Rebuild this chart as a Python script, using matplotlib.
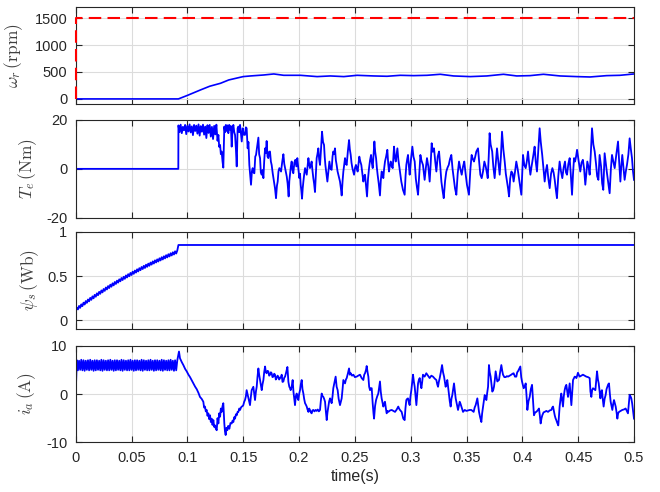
import numpy as np
import matplotlib
matplotlib.use("Agg")
import matplotlib.pyplot as plt

plt.rcParams['font.family'] = ['Liberation Sans', 'DejaVu Sans']
plt.rcParams['mathtext.fontset'] = 'cm'
plt.rcParams['axes.unicode_minus'] = False

# --- rotor speed (rpm) and its reference ---
t_speed = [0, 0.092, 0.100, 0.1118, 0.120, 0.1297, 0.1371, 0.150, 0.1565, 0.1684,
           0.1774, 0.1863, 0.2013, 0.2162, 0.228, 0.2401, 0.252, 0.2669, 0.2788,
           0.2907, 0.3026, 0.3146, 0.3265, 0.3384, 0.3533, 0.3682, 0.3831, 0.395,
           0.4069, 0.4189, 0.4338, 0.4487, 0.4606, 0.4755, 0.4874, 0.5]
speed = [0, 0, 65, 167, 235, 290, 352, 414, 426, 444,
         463, 438, 438, 414, 426, 414, 438, 426, 420,
         438, 432, 438, 457, 426, 414, 426, 457, 426,
         432, 457, 426, 414, 407, 432, 438, 463]
t_speed_ref = [0, 0, 0.5]
speed_ref = [0, 1500, 1500]

# --- electromagnetic torque (Nm) ---
t_te = [0, 0.0919,
        0.092, 0.093, 0.094, 0.095, 0.096, 0.097, 0.098, 0.099, 0.100, 0.101,
        0.102, 0.103, 0.104, 0.105, 0.106, 0.107, 0.108, 0.109, 0.110, 0.111,
        0.112, 0.113, 0.114, 0.115, 0.116, 0.117, 0.118, 0.119, 0.120, 0.121,
        0.122, 0.123, 0.124, 0.125, 0.126, 0.127,
        0.1278, 0.1285, 0.1293, 0.1300, 0.1307, 0.1315, 0.1322, 0.1331, 0.1337, 0.1345,
        0.1352, 0.1360, 0.1367, 0.1375, 0.1382, 0.1390, 0.1397, 0.1405, 0.1412, 0.1420,
        0.1427, 0.1435, 0.1442, 0.1450, 0.1457, 0.1465, 0.1472, 0.1480, 0.1487, 0.1496,
        0.1505, 0.1516, 0.1524, 0.1531, 0.1540, 0.1547, 0.1555, 0.1562, 0.1570, 0.1578,
        0.1585, 0.1592, 0.1600, 0.1608, 0.1615, 0.1625, 0.1636, 0.1643, 0.1651, 0.1658,
        0.1666, 0.1673, 0.1681, 0.1688, 0.1696, 0.1703, 0.1710, 0.1718, 0.1725, 0.1733,
        0.1740, 0.1748, 0.1755, 0.1765, 0.1776, 0.1785, 0.1794, 0.1802, 0.1809, 0.1816,
        0.1824, 0.1832, 0.1839, 0.1850, 0.1860, 0.1868, 0.1875, 0.1883, 0.1890, 0.1898,
        0.1907, 0.1913, 0.1919, 0.1927, 0.1934, 0.1942, 0.1949, 0.1958, 0.1967, 0.1976,
        0.1985, 0.1994, 0.2003, 0.2009, 0.2015, 0.2021, 0.2027, 0.2033, 0.2039, 0.2047,
        0.2054, 0.2061, 0.2069, 0.2077, 0.2084, 0.2091, 0.2098, 0.2106, 0.2113, 0.2120,
        0.2128, 0.2135, 0.2143, 0.2150, 0.2158, 0.2165, 0.2173, 0.2180, 0.2188, 0.2197,
        0.2206, 0.2215, 0.2224, 0.2230, 0.2236, 0.2245, 0.2254, 0.2263, 0.2272, 0.2282,
        0.2292, 0.2300, 0.2307, 0.2315, 0.2322, 0.2330, 0.2337, 0.2345, 0.2352, 0.2360,
        0.2367, 0.2375, 0.2382, 0.2390, 0.2397, 0.2405, 0.2412, 0.2420, 0.2427, 0.2437,
        0.2448, 0.2455, 0.2463, 0.2470, 0.2478, 0.2485, 0.2493, 0.2502, 0.2510, 0.2518,
        0.2525, 0.2533, 0.2540, 0.2549, 0.2558, 0.2567, 0.2576, 0.2584, 0.2591, 0.2600,
        0.2609, 0.2618, 0.2627, 0.2636, 0.2645, 0.2652, 0.2660, 0.2668, 0.2675, 0.2682,
        0.2690, 0.2697, 0.2704, 0.2714, 0.2725, 0.2732, 0.2740, 0.2748, 0.2755, 0.2762,
        0.2770, 0.2780, 0.2791, 0.2799, 0.2806, 0.2814, 0.2821, 0.2830, 0.2839, 0.2845,
        0.2851, 0.2858, 0.2866, 0.2874, 0.2881, 0.2889, 0.2896, 0.2905, 0.2916, 0.2931,
        0.2946, 0.2954, 0.2961, 0.2969, 0.2976, 0.2984, 0.2991, 0.3003, 0.3015, 0.3025,
        0.3036, 0.3046, 0.3056, 0.3066, 0.3077, 0.3087, 0.3096, 0.3110, 0.3125, 0.3135,
        0.3146, 0.3158, 0.3170, 0.3179, 0.3188, 0.3198, 0.3209, 0.3220, 0.3230, 0.3242,
        0.3254, 0.3265, 0.3275, 0.3286, 0.3296, 0.3308, 0.3319, 0.3330, 0.3341, 0.3352,
        0.3364, 0.3375, 0.3385, 0.3397, 0.3409, 0.3421, 0.3433, 0.3445, 0.3457, 0.3469,
        0.3480, 0.3492, 0.3504, 0.3513, 0.3522, 0.3535, 0.3546, 0.3557, 0.3567, 0.3578,
        0.3588, 0.3603, 0.3613, 0.3624, 0.3636, 0.3648, 0.3660, 0.3672, 0.3684, 0.3690,
        0.3699, 0.3707, 0.3716, 0.3730, 0.3740, 0.3752, 0.3762, 0.3773, 0.3785, 0.3797,
        0.3808, 0.3818, 0.3830, 0.3842, 0.3852, 0.3863, 0.3872, 0.3881, 0.3891, 0.3902,
        0.3912, 0.3922, 0.3935, 0.3946, 0.3958, 0.3970, 0.3981, 0.3991, 0.4006, 0.4018,
        0.4030, 0.4040, 0.4051, 0.4061, 0.4072, 0.4081, 0.4090, 0.4100, 0.4110, 0.4120,
        0.4131, 0.4143, 0.4155, 0.4165, 0.4178, 0.4190, 0.4200, 0.4210, 0.4221, 0.4233,
        0.4245, 0.4257, 0.4269, 0.4280, 0.4290, 0.4300, 0.4310, 0.4322, 0.4334, 0.4346,
        0.4358, 0.4370, 0.4382, 0.4391, 0.4400, 0.4412, 0.4424, 0.4435, 0.4445, 0.4454,
        0.4463, 0.4472, 0.4481, 0.4490, 0.4505, 0.4519, 0.4530, 0.4542, 0.4553, 0.4564,
        0.4573, 0.4582, 0.4594, 0.4603, 0.4613, 0.4624, 0.4636, 0.4648, 0.4660, 0.4670,
        0.4681, 0.4692, 0.4705, 0.4715, 0.4725, 0.4737, 0.4748, 0.4758, 0.4770, 0.4782,
        0.4793, 0.4803, 0.4815, 0.4827, 0.4842, 0.4857, 0.4867, 0.4878, 0.4886, 0.4895,
        0.4905, 0.4916, 0.4927, 0.4937, 0.4950, 0.4961, 0.4972, 0.4982, 0.4991, 0.5]
te = [0, 0,
      17.8, 15.0, 18.1, 14.6, 17.2, 15.8, 18.0, 14.2, 17.6, 15.3,
      18.2, 14.9, 17.4, 13.8, 18.0, 15.5, 17.7, 14.4, 18.2, 13.6,
      17.5, 15.2, 18.1, 14.0, 17.3, 12.6, 17.9, 14.7, 18.0, 13.2,
      17.2, 12.2, 17.6, 14.1, 18.1, 11.5,
      13.9, 9.0, 9.8, 6.0, 7.1, 3.0, 0.5, 17.3, 15.0, 18.0,
      15.5, 17.8, 14.6, 18.0, 16.0, 17.5, 9.1, 16.5, 18.0, 15.0,
      13.9, 8.0, 1.0, 16.6, 17.3, 15.0, 18.0, 14.5, 11.2, 16.6,
      14.0, 13.9, 17.0, 16.6, 8.4, 11.0, 1.6, -2.0, -6.5, -1.0,
      0.3, -1.5, -1.8, 5.0, 5.7, 9.0, 12.8, 6.0, 4.4, -1.5,
      -2.4, -0.5, -3.8, 3.0, 8.4, 6.5, 11.4, 5.0, 4.4, 7.0,
      7.1, 3.0, 1.6, -2.0, -5.2, -8.0, -12.0, -7.0, -5.2, -1.0,
      0.3, -0.4, -1.1, 3.0, 6.0, 2.0, 0.3, -1.5, -3.1, -6.0,
      -11.3, -5.0, -2.4, 1.0, 3.0, -0.5, -1.8, 2.5, 3.7, 1.0,
      4.4, 0.0, -3.8, -2.0, -6.5, -9.0, -12.2, -8.0, -5.2, -2.0,
      0.3, -1.0, -2.4, 1.0, 4.4, 2.0, 0.3, 1.5, 3.0, -0.5,
      -3.8, -6.0, -9.5, -3.0, 4.4, 6.0, 8.4, 4.0, 1.6, 8.0,
      15.2, 11.0, 9.8, 5.0, 1.6, -2.0, -5.2, -1.0, 3.0, 0.0,
      -0.4, 5.0, 7.1, 6.0, 8.4, 3.5, 1.6, -1.0, -2.4, -4.0,
      -5.2, -8.0, -10.9, -5.0, -1.1, 2.0, 4.4, 2.0, 1.6, 7.0,
      11.8, 8.0, 5.7, 2.5, 0.3, -1.0, -2.4, 0.5, 1.6, 0.0,
      -1.1, 2.0, 5.0, 3.0, 1.6, -2.0, -5.2, -3.0, -2.4, -7.0,
      -11.3, -4.0, 0.3, 3.5, 5.7, 2.5, 0.3, 6.0, 11.2, 7.0,
      4.4, 0.5, -2.4, -6.0, -10.9, -5.0, -1.1, -2.0, -3.8, 0.0,
      3.0, 5.0, 7.8, 2.0, -1.1, 1.5, 3.0, 1.0, 0.3, 5.0,
      9.1, 5.0, 3.0, 6.0, 8.4, 4.0, 1.6, -1.5, -5.2, -8.6,
      -10.6, -3.0, 1.6, 4.0, 5.7, 1.0, -2.4, 4.0, 9.1, 5.0,
      3.0, -4.0, -7.5, -10.6, -2.0, 5.7, 3.5, 1.6, -4.5, 0.0,
      4.4, 1.0, -5.2, 2.0, 10.5, 7.0, 8.4, 3.0, -1.1, 5.0,
      7.1, 1.0, -5.2, -9.0, -12.0, -5.0, -1.1, 0.5, 1.6, 4.0,
      5.7, 0.0, -3.8, -8.0, -10.6, -2.0, 3.0, 0.0, -2.4, 1.0,
      3.0, -2.0, -6.5, -8.5, -10.6, 0.0, 5.7, 4.0, 3.0, 5.0,
      7.1, 8.4, 3.0, -2.4, -3.8, -1.0, 3.0, 1.0, -2.0, -3.8,
      5.0, 14.6, 10.0, 7.1, 1.0, -3.8, 2.0, 8.4, 3.0, -2.4,
      5.0, 15.2, 8.0, 3.0, -2.0, -5.2, -8.0, -11.3, -4.0, -1.1,
      -1.8, -5.2, -1.0, 3.0, 0.0, -3.8, -7.0, -10.6, 5.7, 1.5,
      0.3, 3.0, 7.1, 2.0, -2.4, 0.5, 3.0, 6.0, 9.1, 3.0,
      -1.1, 8.0, 16.6, 11.0, 5.7, -0.5, -5.2, -1.0, 1.6, -4.0,
      -7.9, -2.0, 0.3, -1.5, -4.5, -8.5, -12.0, -3.0, 3.0, -1.0,
      -3.8, 0.5, 3.0, -1.5, -2.4, 2.0, 4.4, -3.0, -10.6, -2.0,
      4.4, 3.0, 5.0, 7.8, 3.0, -1.1, 2.5, 3.7, 0.0, -6.5,
      -2.0, 3.0, 0.5, -2.4, 6.0, 16.6, 10.0, 7.1, 2.0, -3.0,
      -4.5, 5.7, 1.0, -6.0, -8.6, 6.4, 2.0, -1.8, -6.0, -10.0,
      0.0, 5.7, 3.0, 0.3, 6.0, 11.2, 3.0, -5.2, 1.0, 5.7,
      1.0, -4.5, -1.0, 1.6, 6.0, 12.5, 8.0, 4.4, -1.0, -4.5]

# --- stator flux (Wb): 1 ms samples during build-up, then held ---
dt_fine = 0.001
psi_buildup = [0.105, 0.144, 0.124, 0.163, 0.142, 0.181, 0.161, 0.200, 0.179, 0.218,
               0.198, 0.236, 0.215, 0.254, 0.232, 0.271, 0.249, 0.288, 0.267, 0.305,
               0.284, 0.322, 0.300, 0.338, 0.316, 0.354, 0.333, 0.371, 0.349, 0.387,
               0.365, 0.403, 0.380, 0.418, 0.395, 0.433, 0.411, 0.448, 0.426, 0.463,
               0.441, 0.478, 0.455, 0.492, 0.469, 0.507, 0.484, 0.521, 0.498, 0.535,
               0.512, 0.549, 0.525, 0.562, 0.539, 0.576, 0.552, 0.589, 0.566, 0.602,
               0.579, 0.615, 0.591, 0.628, 0.604, 0.640, 0.616, 0.652, 0.629, 0.665,
               0.641, 0.677, 0.653, 0.688, 0.664, 0.700, 0.676, 0.712, 0.687, 0.723,
               0.699, 0.735, 0.710, 0.746, 0.721, 0.757, 0.732, 0.768, 0.743, 0.779,
               0.754, 0.789]
t_psi_hold = [0.092, 0.5]
psi_hold = [0.85, 0.85]

# --- phase-a current (A) ---
ia_startup = [0.0, 7.0, 4.9, 6.9, 5.0, 7.1, 4.9, 7.0, 4.8, 6.9, 5.0, 7.0, 4.9, 7.1, 5.0,
              6.9, 4.8, 7.0, 4.9, 7.0, 5.0, 6.9, 4.9, 7.1, 4.8, 7.0, 5.0, 6.9, 4.9, 7.0,
              4.9, 7.1, 5.0, 6.9, 4.8, 7.0, 4.9, 7.0, 5.0, 6.9, 4.9, 7.1, 4.8, 7.0, 5.0,
              6.9, 4.9, 7.0, 4.9, 7.1, 5.0, 6.9, 4.8, 7.0, 4.9, 7.0, 5.0, 6.9, 4.9, 7.1,
              4.8, 7.0, 5.0, 6.9, 4.9, 7.0, 4.9, 7.1, 5.0, 6.9, 4.8, 7.0, 4.9, 7.0, 5.0,
              6.9, 4.9, 7.1, 4.8, 7.0, 5.0, 6.9, 4.9, 7.0, 4.9, 7.1, 5.0, 6.9, 4.8, 7.0,
              4.9, 7.0]
t_ia = [0.0925, 0.0934, 0.0950, 0.0964, 0.0980, 0.0994, 0.1010, 0.1024, 0.1040, 0.1054,
        0.1070, 0.1084, 0.1100, 0.1113, 0.1128, 0.1143, 0.1150, 0.1158, 0.1165, 0.1173,
        0.1180, 0.1188, 0.1195, 0.1203, 0.1210, 0.1218, 0.1225, 0.1233, 0.1240, 0.1248,
        0.1255, 0.1263, 0.1270, 0.1278, 0.1285, 0.1293, 0.1300, 0.1307, 0.1315, 0.1322,
        0.1331, 0.1337, 0.1343, 0.1350, 0.1358, 0.1366, 0.1376, 0.1386, 0.1397, 0.1405,
        0.1412, 0.1420, 0.1427, 0.1435, 0.1442, 0.1450, 0.1457, 0.1465, 0.1472, 0.1480,
        0.1487, 0.1495, 0.1501, 0.1509, 0.1516, 0.1524, 0.1531, 0.1539, 0.1546, 0.1554,
        0.1561, 0.1569, 0.1576, 0.1584, 0.1591, 0.1599, 0.1606, 0.1614, 0.1621, 0.1628,
        0.1636, 0.1643, 0.1651, 0.1658, 0.1666, 0.1673, 0.1681, 0.1688, 0.1696, 0.1703,
        0.1710, 0.1718, 0.1725, 0.1733, 0.1740, 0.1748, 0.1755, 0.1762, 0.1770, 0.1778,
        0.1785, 0.1792, 0.1800, 0.1808, 0.1815, 0.1822, 0.1830, 0.1838, 0.1845, 0.1852,
        0.1860, 0.1868, 0.1875, 0.1885, 0.1896, 0.1905, 0.1913, 0.1920, 0.1925, 0.1934,
        0.1943, 0.1950, 0.1957, 0.1964, 0.1971, 0.1979, 0.1986, 0.1994, 0.2001, 0.2009,
        0.2016, 0.2024, 0.2031, 0.2039, 0.2046, 0.2054, 0.2061, 0.2069, 0.2076, 0.2084,
        0.2091, 0.2098, 0.2106, 0.2113, 0.2120, 0.2128, 0.2138, 0.2148, 0.2158, 0.2168,
        0.2178, 0.2188, 0.2195, 0.2203, 0.2210, 0.2218, 0.2225, 0.2233, 0.2240, 0.2248,
        0.2255, 0.2263, 0.2270, 0.2278, 0.2285, 0.2292, 0.2300, 0.2307, 0.2318, 0.2328,
        0.2337, 0.2346, 0.2355, 0.2367, 0.2375, 0.2382, 0.2390, 0.2397, 0.2405, 0.2412,
        0.2420, 0.2427, 0.2437, 0.2448, 0.2455, 0.2463, 0.2475, 0.2487, 0.2500, 0.2516,
        0.2530, 0.2546, 0.2561, 0.2576, 0.2584, 0.2591, 0.2600, 0.2606, 0.2614, 0.2621,
        0.2628, 0.2636, 0.2643, 0.2651, 0.2660, 0.2667, 0.2672, 0.2681, 0.2690, 0.2700,
        0.2710, 0.2718, 0.2725, 0.2732, 0.2740, 0.2748, 0.2755, 0.2762, 0.2770, 0.2778,
        0.2785, 0.2792, 0.2800, 0.2815, 0.2830, 0.2845, 0.2860, 0.2875, 0.2889, 0.2896,
        0.2904, 0.2912, 0.2919, 0.2934, 0.2946, 0.2953, 0.2961, 0.2969, 0.2976, 0.2984,
        0.2991, 0.2998, 0.3006, 0.3014, 0.3021, 0.3029, 0.3036, 0.3044, 0.3051, 0.3059,
        0.3066, 0.3074, 0.3081, 0.3089, 0.3096, 0.3103, 0.3110, 0.3118, 0.3125, 0.3133,
        0.3140, 0.3155, 0.3170, 0.3185, 0.3200, 0.3215, 0.3230, 0.3238, 0.3245, 0.3252,
        0.3260, 0.3270, 0.3281, 0.3290, 0.3299, 0.3306, 0.3313, 0.3320, 0.3328, 0.3335,
        0.3343, 0.3350, 0.3358, 0.3365, 0.3373, 0.3380, 0.3388, 0.3395, 0.3403, 0.3413,
        0.3424, 0.3431, 0.3439, 0.3446, 0.3454, 0.3461, 0.3469, 0.3476, 0.3484, 0.3499,
        0.3513, 0.3528, 0.3543, 0.3553, 0.3564, 0.3573, 0.3582, 0.3590, 0.3597, 0.3605,
        0.3612, 0.3622, 0.3633, 0.3640, 0.3648, 0.3655, 0.3663, 0.3670, 0.3678, 0.3685,
        0.3693, 0.3697, 0.3701, 0.3708, 0.3716, 0.3724, 0.3731, 0.3739, 0.3746, 0.3754,
        0.3761, 0.3769, 0.3776, 0.3784, 0.3791, 0.3801, 0.3812, 0.3820, 0.3827, 0.3839,
        0.3851, 0.3862, 0.3872, 0.3887, 0.3901, 0.3912, 0.3922, 0.3934, 0.3946, 0.3954,
        0.3961, 0.3971, 0.3982, 0.3990, 0.3997, 0.4005, 0.4012, 0.4021, 0.4030, 0.4038,
        0.4045, 0.4055, 0.4066, 0.4076, 0.4087, 0.4095, 0.4104, 0.4115, 0.4125, 0.4137,
        0.4149, 0.4157, 0.4164, 0.4172, 0.4179, 0.4190, 0.4200, 0.4215, 0.4230, 0.4245,
        0.4260, 0.4268, 0.4275, 0.4283, 0.4290, 0.4297, 0.4304, 0.4313, 0.4322, 0.4328,
        0.4334, 0.4342, 0.4349, 0.4356, 0.4364, 0.4371, 0.4379, 0.4386, 0.4394, 0.4402,
        0.4409, 0.4417, 0.4424, 0.4431, 0.4439, 0.4447, 0.4454, 0.4462, 0.4469, 0.4477,
        0.4484, 0.4491, 0.4498, 0.4506, 0.4513, 0.4528, 0.4543, 0.4558, 0.4573, 0.4588,
        0.4603, 0.4610, 0.4618, 0.4625, 0.4633, 0.4643, 0.4654, 0.4662, 0.4669, 0.4677,
        0.4684, 0.4692, 0.4699, 0.4706, 0.4713, 0.4720, 0.4728, 0.4737, 0.4746, 0.4754,
        0.4761, 0.4769, 0.4776, 0.4784, 0.4791, 0.4799, 0.4806, 0.4814, 0.4821, 0.4829,
        0.4836, 0.4844, 0.4851, 0.4858, 0.4866, 0.4880, 0.4895, 0.4910, 0.4925, 0.4936,
        0.4946, 0.4954, 0.4961, 0.4969, 0.4976, 0.4984, 0.4991, 0.5]
ia = [8.8, 7.4, 6.6, 6.0, 5.2, 4.7, 4.0, 3.5, 2.8, 2.2,
      1.5, 1.0, 0.2, -0.6, -1.0, -1.6, -2.8, -2.6, -3.6, -3.3,
      -4.5, -4.0, -5.2, -4.4, -5.8, -5.1, -6.4, -5.4, -6.8, -6.5,
      -7.2, -7.5, -5.0, -6.1, -4.0, -4.7, -3.0, -3.7, -2.5, -1.9,
      -6.1, -7.8, -8.5, -7.0, -7.5, -6.6, -7.2, -6.0, -6.1, -5.5,
      -5.8, -4.8, -5.1, -4.2, -4.4, -3.7, -3.7, -3.0, -3.3, -2.8,
      -2.6, -2.5, -2.3, -1.6, -1.25, -0.5, 0.8, 0.0, -0.6, -1.5,
      -2.3, -0.5, 0.8, 1.2, 1.5, 0.0, -1.25, 0.5, 1.5, 3.5,
      5.3, 4.0, 2.9, 1.8, 0.8, 2.0, 2.9, 4.5, 5.7, 4.5,
      4.3, 4.8, 4.7, 3.8, 4.0, 4.5, 4.3, 3.5, 3.6, 4.2,
      4.0, 3.0, 3.3, 3.8, 3.6, 3.0, 3.3, 3.5, 4.0, 2.5,
      2.6, 3.4, 3.6, 4.5, 5.6, 2.5, 1.5, 1.2, 0.8, 1.5,
      2.9, 0.5, -1.0, -2.3, -0.5, 0.1, -0.8, -1.25, 0.0, 0.8,
      2.0, 2.9, 1.0, 0.1, -1.0, -1.9, -2.2, -2.6, -3.2, -3.7,
      -3.0, -3.3, -3.8, -4.0, -3.4, -3.3, -3.6, -3.3, -3.5, -3.2,
      -3.6, -3.3, -1.5, 0.1, -0.4, -0.6, -1.0, -1.6, -3.5, -5.4,
      -3.8, -2.6, -1.5, -0.9, -1.3, -1.9, -0.5, 1.2, 2.5, 3.6,
      1.5, 0.8, -1.0, -2.3, -1.5, -0.9, 1.0, 2.9, 2.5, 2.2,
      3.0, 3.3, 4.2, 5.3, 4.0, 4.3, 3.8, 4.0, 3.5, 3.6,
      3.8, 4.0, 3.3, 2.9, 4.0, 4.3, 5.0, 5.8, 4.5, 3.6,
      1.5, 0.8, 1.2, 1.2, -2.0, -4.0, -5.1, -2.5, -1.25, -0.5,
      0.1, 1.5, 2.6, 0.5, -0.9, -1.8, -2.6, -2.0, -1.6, -3.0,
      -4.0, -3.5, -3.7, -3.4, -3.3, -3.5, -3.7, -3.2, -2.6, -3.0,
      -3.3, -3.5, -3.7, -5.1, -5.4, -3.0, -1.25, -1.0, -0.9, -1.8,
      -2.3, -0.5, 0.8, 2.5, 4.0, 2.5, 1.5, -0.5, -2.3, 0.0,
      2.2, 3.0, 3.3, 2.0, 1.2, 2.5, 4.0, 3.8, 3.6, 4.0,
      4.3, 3.8, 3.3, 3.8, 3.6, 3.2, 2.9, 2.0, 1.5, 2.5,
      3.3, 4.5, 6.0, 4.5, 3.6, 2.5, 1.5, 2.0, 2.9, 1.5,
      -0.2, -1.5, -2.6, -1.0, -0.2, 1.0, 2.2, 0.8, -0.9, -2.0,
      -3.3, -2.5, -1.6, -2.0, -2.6, -3.2, -3.7, -3.5, -3.3, -3.5,
      -3.4, -3.3, -3.3, -3.5, -3.7, -2.8, -2.3, -1.5, -0.9, -2.5,
      -3.7, -4.8, -5.8, -4.0, -2.6, -1.5, -0.2, -0.8, -1.25, 0.2,
      1.5, 4.0, 6.0, 4.5, 3.6, 2.0, 0.5, 0.8, 1.5, 3.0,
      4.7, 3.5, 2.6, 2.8, 2.9, 4.5, 6.0, 4.8, 4.0, 3.5,
      3.5, 3.7, 3.6, 3.8, 4.0, 4.2, 4.3, 3.6, 3.6, 4.5,
      4.7, 5.2, 5.7, 3.5, 2.6, 1.8, 1.2, 1.5, 2.2, -0.5,
      -3.3, -1.5, -0.6, 1.0, 1.9, -1.0, -4.4, -3.8, -3.7, -3.4,
      -3.0, -4.5, -6.1, -5.0, -4.4, -3.8, -3.7, -3.5, -3.7, -3.4,
      -3.3, -2.8, -2.6, -3.6, -4.4, -5.0, -5.4, -6.0, -6.5, -4.5,
      -2.6, -1.0, 0.1, -1.2, -2.6, -0.5, 0.8, 1.5, 1.9, 0.5,
      -0.6, 1.0, 2.2, 0.0, -2.3, 0.5, 2.9, 3.3, 3.6, 3.5,
      3.3, 3.8, 4.4, 4.0, 3.6, 3.8, 4.0, 3.8, 3.6, 3.5,
      3.3, 0.5, -0.6, 0.8, 1.2, 1.0, 0.8, 3.0, 4.7, 3.0,
      2.2, 0.5, -0.9, 0.5, 0.8, -1.0, -2.6, -1.0, -0.2, 1.0,
      1.5, 2.0, 2.2, 0.0, -1.6, -2.5, -3.3, -2.0, -1.25, -2.0,
      -2.6, -3.8, -5.1, -4.0, -3.7, -3.5, -3.3, -3.2, -3.0, -3.5,
      -4.0, -2.0, -0.2, -0.5, -0.9, -2.0, -3.3, -5.1]

x_ticks = [0, 0.05, 0.1, 0.15, 0.2, 0.25, 0.3, 0.35, 0.4, 0.45, 0.5]
x_tick_labels = ['0', '0.05', '0.1', '0.15', '0.2', '0.25', '0.3', '0.35', '0.4', '0.45', '0.5']

# time base for the 1 ms start-up samples
t_fine = np.arange(len(psi_buildup)) * dt_fine
t_psi = np.concatenate([t_fine, t_psi_hold])
psi = np.concatenate([psi_buildup, psi_hold])
t_ia_all = np.concatenate([np.arange(len(ia_startup)) * dt_fine, t_ia])
ia_all = np.concatenate([ia_startup, ia])

fig = plt.figure(figsize=(6.6, 4.92), dpi=100)
axis_col = '#262626'
left, width = 0.1147, 0.8459
boxes = [(0.7880, 0.1972), (0.5575, 0.1986), (0.3307, 0.1984), (0.1010, 0.1963)]
axes = [fig.add_axes([left, b, width, h]) for b, h in boxes]

blue = '#0000ff'
axes[0].plot(t_speed, speed, color=blue, lw=1.2)
# reference step sits on the left spine, so draw it above the frame
axes[0].plot(t_speed_ref, speed_ref, color='red', lw=1.5, dashes=(6, 3),
             zorder=3, clip_on=False)
axes[1].plot(t_te, te, color=blue, lw=1.3)
axes[2].plot(t_psi, psi, color=blue, lw=1.3)
axes[3].plot(t_ia_all, ia_all, color=blue, lw=1.3)

ylims = [(-100, 1700), (-20, 20), (-0.1, 1), (-10, 10)]
yticks = [[0, 500, 1000, 1500], [-20, 0, 20], [0, 0.5, 1], [-10, 0, 10]]
yticklabels = [['0', '500', '1000', '1500'], ['-20', '0', '20'], ['0', '0.5', '1'], ['-10', '0', '10']]
ylabels = [r'$\omega_r\,(\mathrm{rpm})$', r'$T_e\,(\mathrm{Nm})$',
           r'$\psi_s\,(\mathrm{Wb})$', r'$i_a\,(\mathrm{A})$']
label_x = [-0.090, -0.066, -0.063, -0.067]

for i, ax in enumerate(axes):
    ax.set_xlim(0, 0.5)
    ax.set_ylim(*ylims[i])
    ax.set_xticks(x_ticks)
    ax.set_yticks(yticks[i])
    ax.set_yticklabels(yticklabels[i])
    if i == 3:
        ax.set_xticklabels(x_tick_labels)
    else:
        ax.set_xticklabels([])
    ax.grid(True, color='#dcdcdc', lw=0.8)
    ax.set_axisbelow(True)
    ax.tick_params(direction='in', length=4, width=0.8, colors=axis_col,
                   labelsize=10.5, top=True, right=True, pad=6)
    for s in ax.spines.values():
        s.set_color(axis_col)
        s.set_linewidth(0.8)
    ax.set_ylabel(ylabels[i], fontsize=12.5, color='#404040')
    ax.yaxis.set_label_coords(label_x[i], 0.5)

axes[3].set_xlabel('time(s)', fontsize=11.5, color=axis_col, labelpad=3)

fig.savefig('out.png', dpi=100)
